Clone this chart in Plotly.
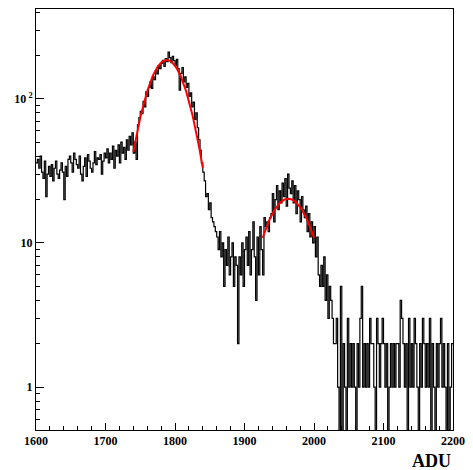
import numpy as np
import plotly.graph_objects as go

# Histogram: 2-ADU bins from 1600 to 2200 (300 bins)
bin_start = 1600
bin_width = 2

counts_1600_1700 = [36, 38, 33, 40, 31, 28, 37, 21, 30, 34, 29, 35, 27, 33, 37, 30, 28, 32, 36, 31,
                    20, 34, 29, 38, 40, 36, 31, 42, 38, 35, 33, 40, 30, 27, 34, 39, 29, 41, 37, 33,
                    31, 36, 43, 35, 39, 38, 41, 30, 37, 42]
counts_1700_1740 = [39, 45, 36, 42, 38, 47, 33, 44, 40, 48, 36, 50, 42, 46, 38, 52, 44, 55, 48, 58]
counts_1740_1840 = [42, 50, 38, 66, 74, 82, 79, 96, 88, 112, 104, 120, 131, 118, 142, 136, 158, 149, 170, 162,
                    176, 185, 168, 190, 181, 211, 193, 178, 197, 184, 170, 188, 162, 115, 150, 165, 131, 142, 120, 128,
                    104, 110, 88, 95, 72, 80, 63, 52, 44, 36]
counts_1840_1926 = [31, 27, 21, 22, 17, 19, 15, 14, 13, 12, 11, 9, 12, 8, 10, 5, 9, 7, 11, 6,
                    8, 10, 5, 8, 7, 2, 8, 6, 10, 5, 9, 11, 7, 12, 6, 9, 14, 8, 4, 11,
                    6, 13, 9]
counts_1926_2010 = [6, 15, 13, 14, 12, 15, 16, 22, 14, 20, 25, 17, 23, 19, 26, 21, 28, 18, 30, 24,
                    22, 27, 19, 25, 16, 23, 20, 14, 21, 17, 15, 18, 12, 16, 11, 14, 10, 13, 8, 11,
                    6, 5]
counts_2010_2030 = [7, 5, 8, 4, 6, 3, 5, 4, 3, 2]
counts_2030_2200 = [2, 3, 1, 0, 5, 0, 2, 1, 0, 3, 1, 2, 1, 2, 1, 0, 2, 1, 3, 5,
                    1, 2, 1, 2, 1, 3, 2, 2, 1, 0, 3, 2, 1, 2, 3, 2, 1, 2, 0, 1,
                    2, 1, 2, 1, 2, 2, 1, 4, 3, 2, 1, 2, 0, 3, 1, 2, 1, 3, 2, 1,
                    0, 2, 1, 3, 2, 1, 2, 1, 3, 0, 2, 1, 0, 2, 1, 2, 3, 1, 2, 1,
                    0, 2, 0, 1, 2]

counts = (counts_1600_1700 + counts_1700_1740 + counts_1740_1840 + counts_1840_1926 +
          counts_1926_2010 + counts_2010_2030 + counts_2030_2200)

# Gaussian fit parameters: [amplitude, mean, sigma, x_low, x_high]
fit_peak1 = [186.0, 1788.0, 28.0, 1740.0, 1840.0]
fit_peak2 = [20.3, 1963.0, 33.0, 1926.0, 2000.0]

x_ticks = [1600, 1700, 1800, 1900, 2000, 2100, 2200]
y_ticks = [1, 10, 100]
y_ticktext = ["1", "10", "10<sup> 2</sup>"]
x_title = "ADU"

edges = bin_start + bin_width * np.arange(len(counts) + 1)
yvals = np.array(counts + [counts[-1]], dtype=float)
yvals[yvals <= 0] = 0.05  # empty bins drop below the log-axis floor, as in ROOT

fig = go.Figure()
fig.add_trace(go.Scatter(x=edges, y=yvals, mode="lines", line=dict(color="black", width=1.2, shape="hv"),
                         showlegend=False, hoverinfo="skip"))

for A, mu, s, lo, hi in (fit_peak1, fit_peak2):
    xf = np.linspace(lo, hi, 200)
    yf = A * np.exp(-0.5 * ((xf - mu) / s) ** 2)
    fig.add_trace(go.Scatter(x=xf, y=yf, mode="lines", line=dict(color="#ff0000", width=2),
                             showlegend=False, hoverinfo="skip"))

tickfont = dict(family="Liberation Serif", size=12, color="black", weight="bold")
minor_y = [v * m for m in (0.1, 1, 10, 100) for v in range(2, 10) if 0.5 <= v * m <= 420]

fig.update_layout(
    width=473, height=470,
    margin=dict(l=36, r=13, t=8, b=40),
    paper_bgcolor="white", plot_bgcolor="white",
    xaxis=dict(range=[1600, 2200], tickvals=x_ticks, ticks="inside", ticklen=7, tickwidth=1,
               tickcolor="black", showline=True, mirror=True, linecolor="black", linewidth=1,
               showgrid=False, zeroline=False, tickfont=tickfont,
               minor=dict(ticks="inside", ticklen=4, dtick=20, tickcolor="black", showgrid=False)),
    yaxis=dict(type="log", range=[np.log10(0.504), np.log10(420)], tickvals=y_ticks, ticktext=y_ticktext,
               ticks="inside", ticklen=8, tickwidth=1, tickcolor="black", showline=True, mirror=True,
               linecolor="black", linewidth=1, showgrid=False, zeroline=False, tickfont=tickfont,
               minor=dict(ticks="inside", ticklen=4, tickvals=minor_y, tickcolor="black", showgrid=False)),
    annotations=[dict(text=x_title, xref="paper", yref="paper", x=1.0, y=-0.045, xanchor="right",
                      yanchor="top", showarrow=False,
                      font=dict(family="Liberation Serif", size=18, color="black", weight="bold"))],
)

fig.write_html("out.html")
